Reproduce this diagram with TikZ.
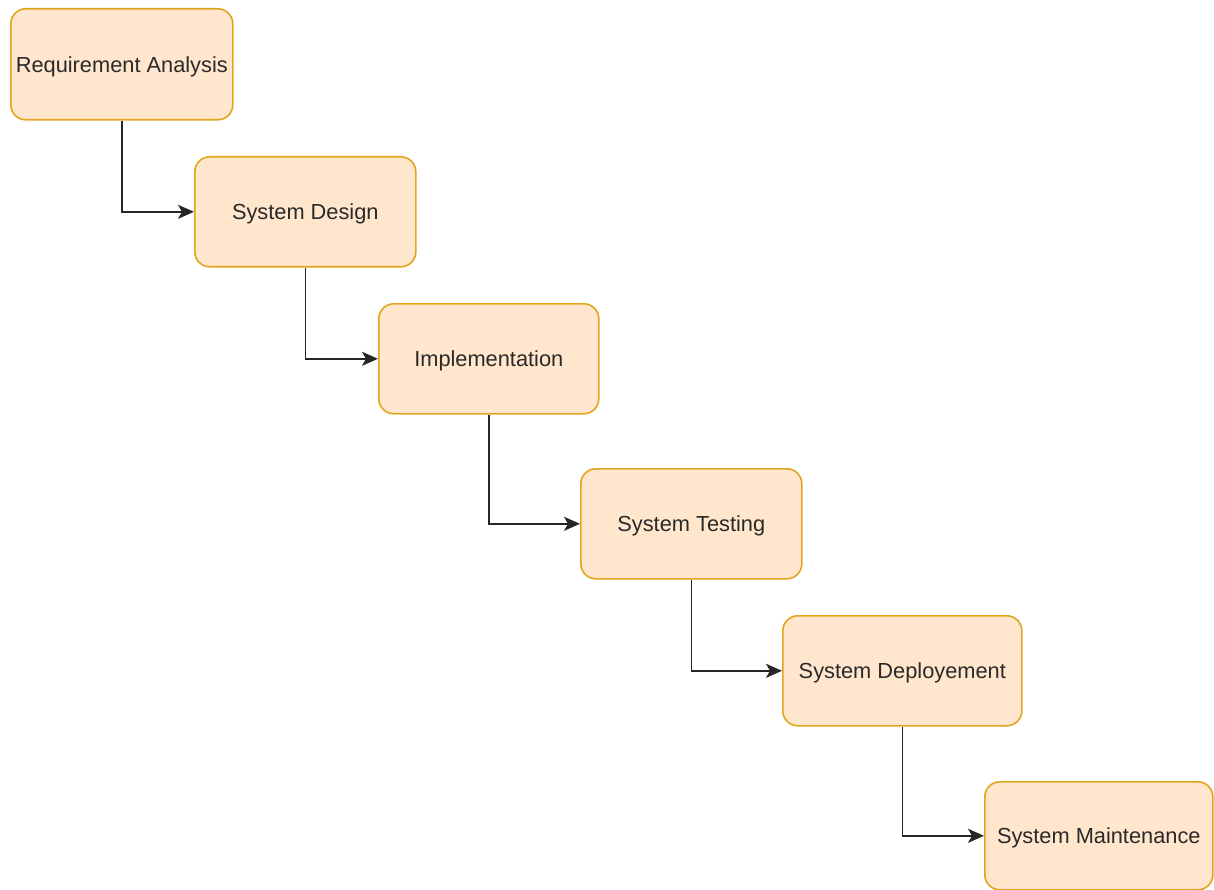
\documentclass[tikz,border=0pt]{standalone}
\usepackage{fontspec}
\setmainfont{Liberation Sans}
\usetikzlibrary{arrows.meta}
\definecolor{boxfill}{HTML}{FFE6CC}
\definecolor{boxdraw}{HTML}{E2A61E}
\definecolor{txt}{HTML}{2A2A2A}
\tikzset{
  phase/.style={draw=boxdraw, fill=boxfill, line width=1.6pt, rounded corners=15pt,
    text=txt, font=\fontsize{21.8}{24}\selectfont, inner sep=0pt, anchor=north west,
    text depth=0pt},
  flow/.style={draw=black!85, line width=1.6pt, -{Stealth[length=16pt,width=14pt,inset=4pt]}}
}
\begin{document}
\begin{tikzpicture}[x=1pt,y=-1pt]
\useasboundingbox (0,0) rectangle (1214,890);
\node[phase, minimum width=222pt, minimum height=111pt] (a) at (10,8) {Requirement Analysis};
\node[phase, minimum width=221pt, minimum height=110pt] (b) at (194,156) {System Design};
\node[phase, minimum width=220pt, minimum height=110pt] (c) at (378,303) {Implementation};
\node[phase, minimum width=221pt, minimum height=110pt] (d) at (580,468) {System Testing};
\node[phase, minimum width=239pt, minimum height=110pt] (e) at (782,615) {System Deployement};
\node[phase, minimum width=228pt, minimum height=108pt] (f) at (984,781) {System Maintenance};
\draw[flow] (a.south) |- (b.west);
\draw[flow] (b.south) |- (c.west);
\draw[flow] (c.south) |- (d.west);
\draw[flow] (d.south) |- (e.west);
\draw[flow] (e.south) |- (f.west);
\end{tikzpicture}
\end{document}
